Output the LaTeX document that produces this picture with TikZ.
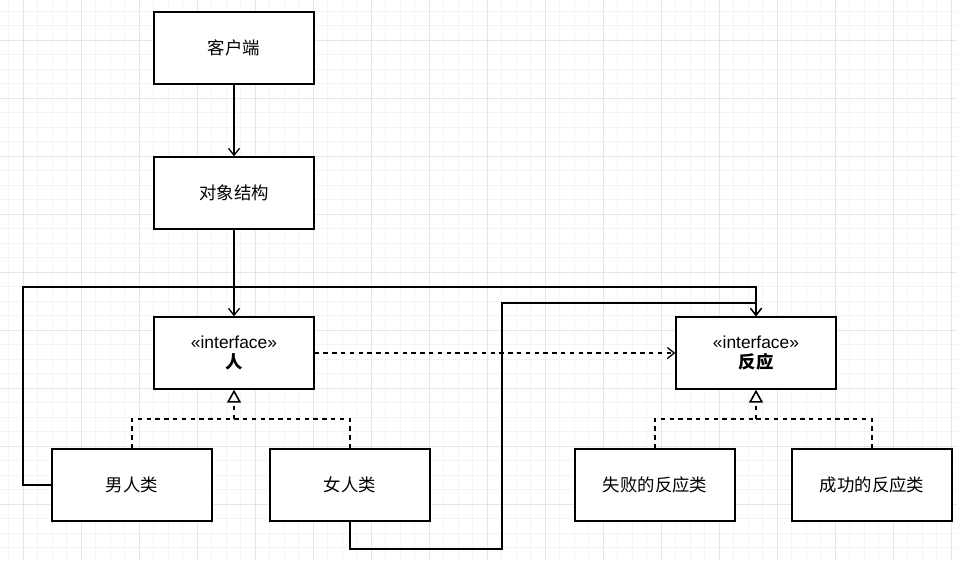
\documentclass[tikz,border=0pt]{standalone}
\usepackage{fontspec}
\setmainfont{Liberation Sans}
\newfontfamily\cjk{Noto Sans CJK SC}
\usetikzlibrary{arrows.meta}
\definecolor{gridMinor}{RGB}{244,244,244}
\definecolor{gridMajor}{RGB}{230,230,230}
\tikzset{
  classbox/.style={draw, line width=1.3pt, fill=white, minimum width=160pt,
    minimum height=72pt, align=center, font=\fontsize{17.4}{20}\selectfont},
  assoc/.style={line width=1.3pt, -{Straight Barb[length=7pt,width=11pt]}},
  depend/.style={assoc, dash pattern=on 4.4pt off 4.4pt},
  realize/.style={line width=1.3pt, dash pattern=on 4.4pt off 4.4pt},
  realtip/.style={realize, -{Triangle[open,length=13pt,width=14pt,line width=1.6pt]}}
}
\begin{document}
\begin{tikzpicture}[x=1pt, y=-1pt]
\useasboundingbox (0,0) rectangle (957,560);
% Background grid
\begin{scope}
  \clip (0,0) rectangle (957,560);
  \fill[white] (0,0) rectangle (957,560);
  \foreach \k in {-1,...,64} {
    \pgfmathsetmacro\gx{23.3+14.5*\k}
    \draw[gridMinor, line width=0.7pt] (\gx,0) -- (\gx,560);
  }
  \foreach \k in {-2,...,36} {
    \pgfmathsetmacro\gy{40.3+14.5*\k}
    \draw[gridMinor, line width=0.7pt] (0,\gy) -- (957,\gy);
  }
  % major lines
  \foreach \k in {0,...,16} {
    \pgfmathsetmacro\gx{23.3+58*\k}
    \draw[gridMajor, line width=0.9pt] (\gx,0) -- (\gx,560);
  }
  \foreach \k in {-1,...,9} {
    \pgfmathsetmacro\gy{40.3+58*\k}
    \draw[gridMajor, line width=0.9pt] (0,\gy) -- (957,\gy);
  }
\end{scope}
% Classes
\node[classbox] (client) at (234,48) {\cjk 客户端};
\node[classbox] (struct) at (234,193) {\cjk 对象结构};
\node[classbox] (person) at (234,353) {«interface»\\{\cjk\bfseries 人}};
\node[classbox] (reaction) at (756,353) {«interface»\\{\cjk\bfseries 反应}};
\node[classbox] (man) at (132,485) {\cjk 男人类};
\node[classbox] (woman) at (350,485) {\cjk 女人类};
\node[classbox] (fail) at (655,485) {\cjk 失败的反应类};
\node[classbox] (success) at (872,485) {\cjk 成功的反应类};
% Bends
\coordinate (pjoin) at (234,419);
\coordinate (rjoin) at (756,419);
\coordinate (mturn) at (23,287);
\coordinate (wlow) at (502,549);
\coordinate (whigh) at (502,303);
% Connectors
\draw[assoc] (client) -- (struct);
\draw[assoc] (struct) -- (person);
\draw[depend] (person) -- (reaction);
\draw[realize] (man.north) |- (pjoin);
\draw[realize] (woman.north) |- (pjoin);
\draw[realtip] (pjoin) -- (person.south);
\draw[realize] (fail.north) |- (rjoin);
\draw[realize] (success.north) |- (rjoin);
\draw[realtip] (rjoin) -- (reaction.south);
\draw[assoc] (man.west) -| (mturn) -| (reaction.north);
\draw[assoc] (woman.south) |- (wlow) -- (whigh) -| (reaction.north);
\end{tikzpicture}
\end{document}
